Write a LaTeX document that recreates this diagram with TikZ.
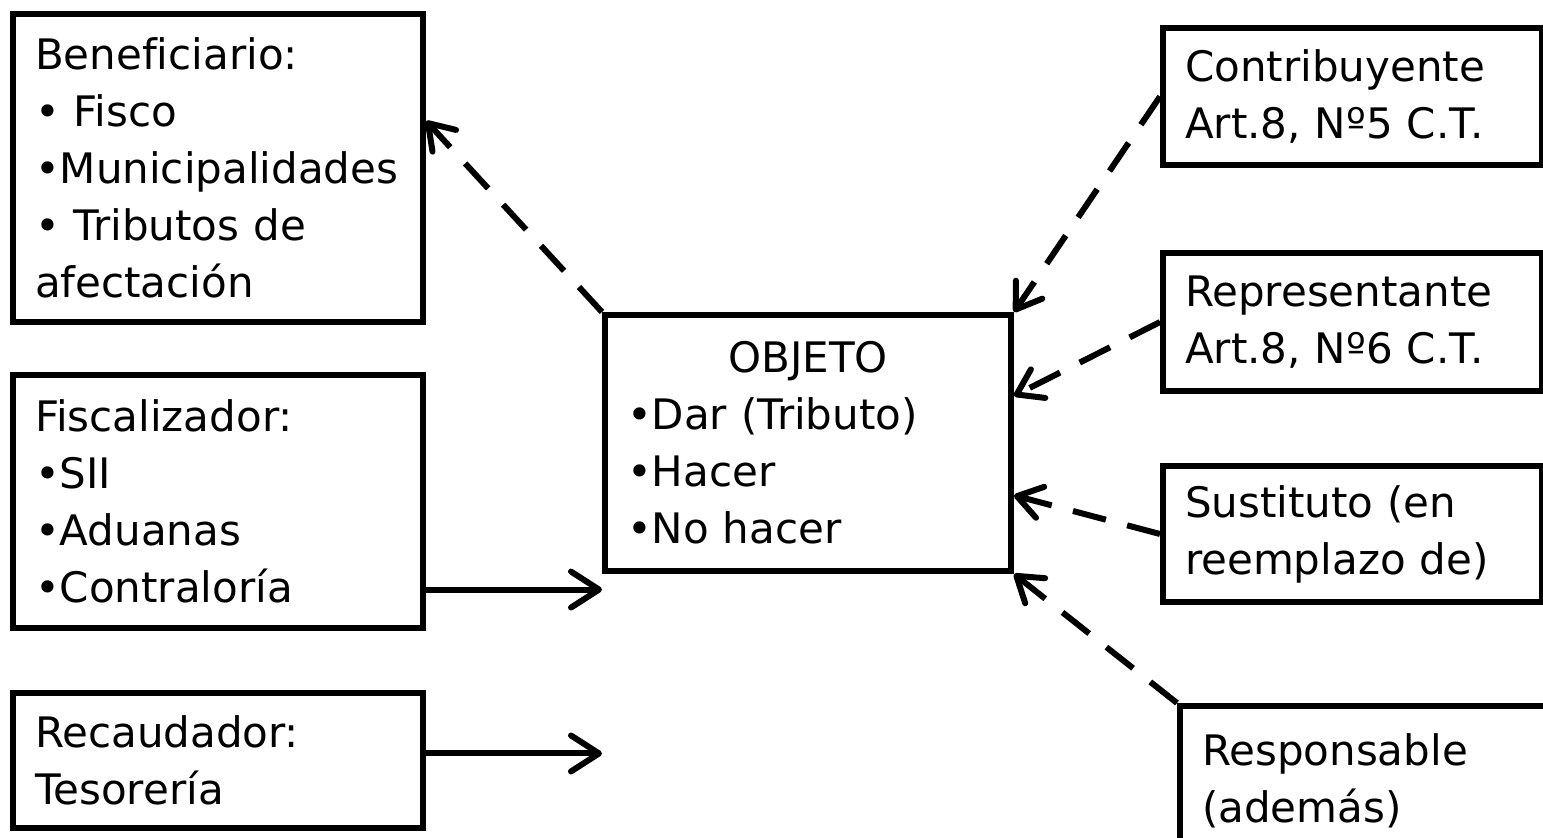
\documentclass[tikz,border=0pt]{standalone}
\usepackage{fontspec}
\setmainfont[Ligatures=NoCommon]{DejaVu Sans}
\usetikzlibrary{arrows.meta,calc}

\begin{document}
\begin{tikzpicture}[x=1pt,y=-1pt,
		caja/.style={draw,line width=6pt,anchor=north west,align=left,inner xsep=22pt,inner ysep=0pt,font=\fontsize{42}{57}\selectfont},
		flecha/.style={line width=6pt,-{Straight Barb[length=28pt,width=36pt,round]}},
		discont/.style={line width=6pt,dash pattern=on 34pt off 22pt,-{Straight Barb[length=24pt,width=32pt,round]}}]
				\useasboundingbox (0,0) rectangle (1543,838);
				\clip (0,0) rectangle (1543,838);

				\node[caja,text width=366pt,minimum height=308pt] (benef) at (10,11)
				{Beneficiario:\\• Fisco\\•Municipalidades\\• Tributos de\\afectación};
				\node[caja,text width=366pt,minimum height=253pt] (fisc) at (10,372)
				{Fiscalizador:\\•SII\\•Aduanas\\•Contraloría};
				\node[caja,text width=366pt,minimum height=135pt] (rec) at (10,690)
				{Recaudador:\\Tesorería};

				\node[caja,text width=362pt,minimum height=256pt] (objeto) at (602,312)
				{{\centering OBJETO\par}•Dar (Tributo)\\•Hacer\\•No hacer};

				\node[caja,text width=335pt,minimum height=137pt] (contrib) at (1160,25)
				{Contribuyente\\Art.8, Nº5 C.T.};
				\node[caja,text width=335pt,minimum height=138pt] (rep) at (1160,250)
				{Representante\\Art.8, Nº6 C.T.};
				\node[caja,text width=335pt,minimum height=136pt] (sust) at (1160,463)
				{Sustituto (en\\reemplazo de)};
				\node[caja,text width=380pt,inner ysep=28pt] (resp) at (1177,703)
				{Responsable\\(además)};

				\coordinate (fs) at ($(fisc.south east)!0.16!(fisc.north east)$);
				\coordinate (rs) at ($(rec.south east)!0.55!(rec.north east)$);
				\draw[discont] (objeto.north west) -- ($(benef.north east)!0.35!(benef.south east)$);
				\draw[flecha] (fs) -- (fs -| objeto.west);
				\draw[flecha] (rs) -- (rs -| objeto.west);

				\draw[discont] (contrib.west) -- (objeto.north east);
				\draw[discont] (rep.west) -- ($(objeto.north east)!0.32!(objeto.south east)$);
				\draw[discont] (sust.west) -- ($(objeto.north east)!0.70!(objeto.south east)$);
				\draw[discont] (resp.north west) -- (objeto.south east);
			\end{tikzpicture}
\end{document}
